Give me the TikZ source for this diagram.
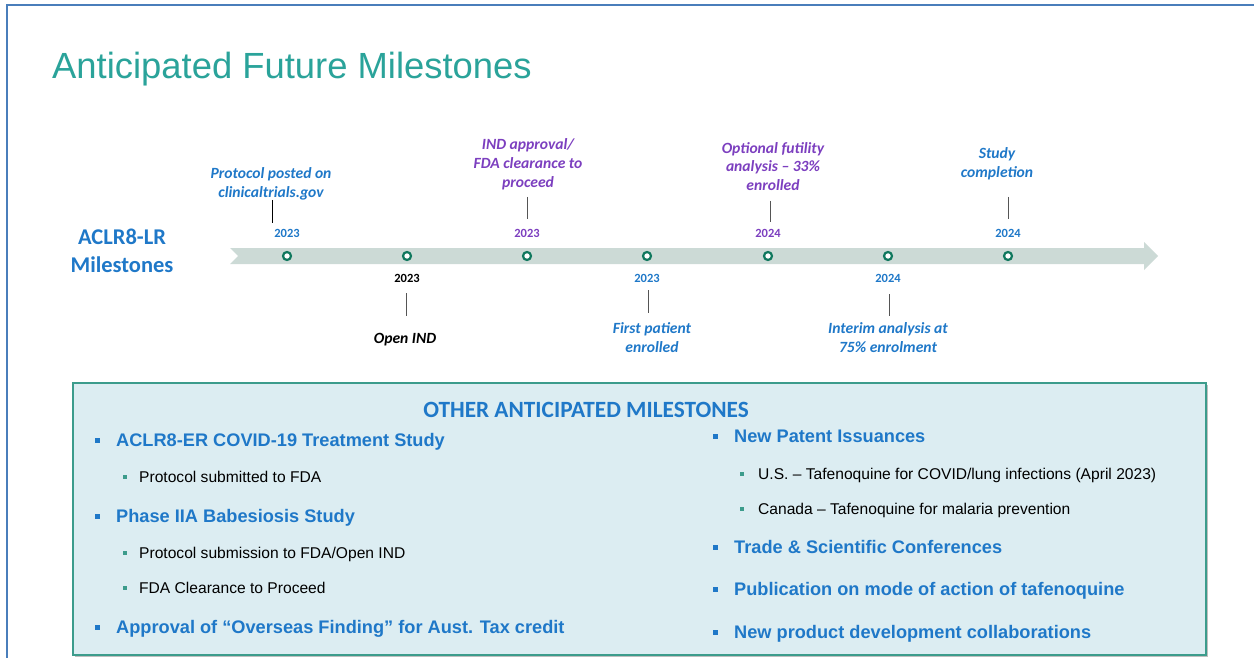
\documentclass[tikz,border=0pt]{standalone}
\usepackage{fontspec}
\setmainfont{Liberation Sans}
\newfontfamily\carl{Carlito}
\definecolor{frameblue}{HTML}{4A7EBB}
\definecolor{titleteal}{HTML}{2AA39A}
\definecolor{lblue}{HTML}{1F78C8}
\definecolor{lpurple}{HTML}{7C3FBF}
\definecolor{bandgray}{HTML}{CCDAD6}
\definecolor{dotgreen}{HTML}{10785E}
\definecolor{boxfill}{HTML}{DCEDF2}
\definecolor{boxline}{HTML}{3C9C8C}
\definecolor{tickgray}{HTML}{555555}
\begin{document}
\begin{tikzpicture}[x=1pt,y=-1pt,
  tl/.style={font=\carl\bfseries\itshape\fontsize{15.6}{19}\selectfont, align=center, inner sep=0, anchor=base},
  yr/.style={font=\carl\bfseries\fontsize{12.5}{14}\selectfont, inner sep=0},
  dot/.style={circle, draw=dotgreen, line width=2.2pt, fill=white, minimum size=8pt, inner sep=0},
  tick/.style={line width=1pt, tickgray},
  mainitem/.style={font=\bfseries\fontsize{18.2}{20}\selectfont, text=lblue, inner sep=0, anchor=base west},
  subitem/.style={font=\fontsize{15.6}{17}\selectfont, text=black, inner sep=0, anchor=base west},
  mbul/.style={fill=lblue, minimum size=5pt, inner sep=0},
  sbul/.style={fill=boxline, minimum size=4pt, inner sep=0}]
\useasboundingbox (0,0) rectangle (1254,658);
% frame
\draw[frameblue, line width=2.5pt] (7,660) -- (7,5) -- (1256,5);
% title
\node[font=\fontsize{36.4}{40}\selectfont, text=titleteal, inner sep=0, anchor=base west] (title) at (52,79) {Anticipated Future Milestones};
% side label
\node[font=\carl\bfseries\fontsize{22.5}{28}\selectfont, text=lblue, align=center, inner sep=0] (side) at (122,251) {ACLR8-LR\\Milestones};
% band
\fill[bandgray] (230,248) -- (1144,248) -- (1144,242) -- (1158,256) -- (1144,270) -- (1144,264) -- (230,264) -- (238,256) -- cycle;
% dots
\foreach \i/\x in {1/287,2/407,3/527,4/647,5/768,6/888,7/1008}
  \node[dot] (d\i) at (\x,256) {};
% upper years
\node[yr, text=lblue] (y1) at (287,233) {2023};
\node[yr, text=lpurple] (y3) at (527,233) {2023};
\node[yr, text=lpurple] (y5) at (768,233) {2024};
\node[yr, text=lblue] (y7) at (1008,233) {2024};
% lower years
\node[yr, text=black] (y2) at (407,278) {2023};
\node[yr, text=lblue] (y4) at (647,278) {2023};
\node[yr, text=lblue] (y6) at (888,278) {2024};
% upper labels (base = baseline of last line)
\node[tl, text=lblue] (l1) at (271,197.5) {Protocol posted on\\clinicaltrials.gov};
\node[tl, text=lpurple] (l3) at (528,188) {IND approval/\\FDA clearance to\\proceed};
\node[tl, text=lpurple] (l5) at (773,191) {Optional futility\\analysis – 33\%\\enrolled};
\node[tl, text=lblue] (l7) at (997,177.5) {Study\\completion};
% lower labels
\node[tl, text=black] (l2) at (405,343) {Open IND};
\node[tl, text=lblue] (l4) at (652,352) {First patient\\enrolled};
\node[tl, text=lblue] (l6) at (888,352) {Interim analysis at\\75\% enrolment};
% ticks
\coordinate (t1a) at (272,200); \coordinate (t1b) at (272,223);
\coordinate (t3a) at (527,197); \coordinate (t3b) at (527,219);
\coordinate (t5a) at (770,201); \coordinate (t5b) at (770,222);
\coordinate (t7a) at (1008,197); \coordinate (t7b) at (1008,219);
\coordinate (t2a) at (406,293); \coordinate (t2b) at (406,316);
\coordinate (t4a) at (648,290); \coordinate (t4b) at (648,313);
\coordinate (t6a) at (889,294); \coordinate (t6b) at (889,316);
\draw[line width=1pt, black] (t1a) -- (t1b);
\draw[tick] (t3a) -- (t3b);
\draw[tick] (t5a) -- (t5b);
\draw[tick] (t7a) -- (t7b);
\draw[tick] (t2a) -- (t2b);
\draw[tick] (t4a) -- (t4b);
\draw[tick] (t6a) -- (t6b);
% box
\fill[black!25] (75,385) rectangle (1208,657);
\draw[boxline, fill=boxfill, line width=1.2pt] (73,383) rectangle (1206,655);
\node[font=\carl\bfseries\fontsize{23.3}{25}\selectfont, text=lblue, inner sep=0] (head) at (586,410) {OTHER ANTICIPATED MILESTONES};
% left list
\node[mbul] (b1) at (97,440) {};
\node[mainitem] (i1) at (116,446) {ACLR8-ER COVID-19 Treatment Study};
\node[sbul] (s1) at (125,477) {};
\node[subitem] (j1) at (139,482) {Protocol submitted to FDA};
\node[mbul] (b2) at (97,516) {};
\node[mainitem] (i2) at (116,522) {Phase IIA Babesiosis Study};
\node[sbul] (s2) at (125,553) {};
\node[subitem] (j2) at (139,558) {Protocol submission to FDA/Open IND};
\node[sbul] (s3) at (125,588) {};
\node[subitem] (j3) at (139,593) {FDA Clearance to Proceed};
\node[mbul] (b3) at (97,627) {};
\node[mainitem] (i3) at (116,633) {Approval of “Overseas Finding” for Aust. Tax credit};
% right list
\node[mbul] (b4) at (715,436) {};
\node[mainitem] (i4) at (734,442) {New Patent Issuances};
\node[sbul] (s4) at (742,474) {};
\node[subitem] (j4) at (758,479) {U.S. – Tafenoquine for COVID/lung infections (April 2023)};
\node[sbul] (s5) at (742,509) {};
\node[subitem] (j5) at (758,514) {Canada – Tafenoquine for malaria prevention};
\node[mbul] (b5) at (715,547) {};
\node[mainitem] (i5) at (734,553) {Trade \& Scientific Conferences};
\node[mbul] (b6) at (715,589) {};
\node[mainitem] (i6) at (734,595) {Publication on mode of action of tafenoquine};
\node[mbul] (b7) at (715,632) {};
\node[mainitem] (i7) at (734,638) {New product development collaborations};
\end{tikzpicture}
\end{document}
